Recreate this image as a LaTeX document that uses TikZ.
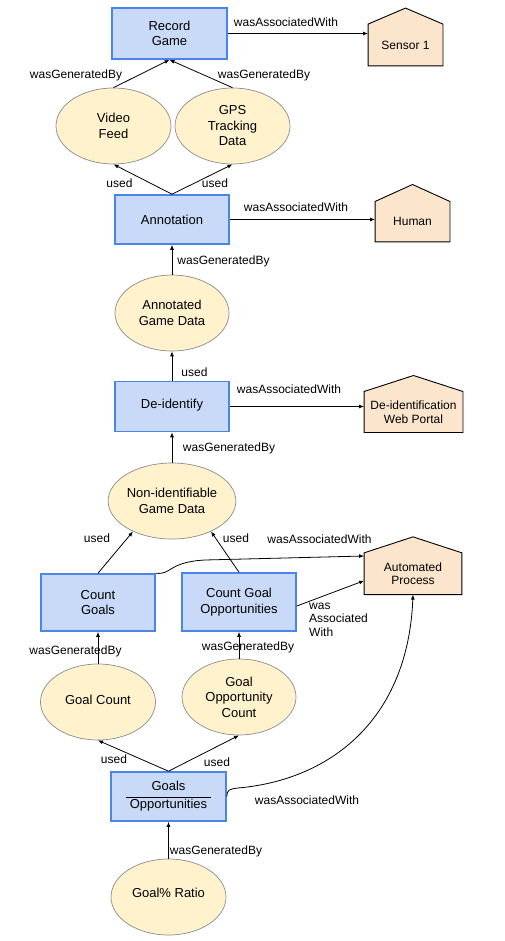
\documentclass[tikz,border=0pt]{standalone}
\usepackage{fontspec}
\setmainfont{Liberation Sans}
\usetikzlibrary{arrows.meta,shapes.geometric,backgrounds}
\definecolor{actfill}{HTML}{C9DAF8}
\definecolor{actdraw}{HTML}{4A86E8}
\definecolor{entfill}{HTML}{FFF2CC}
\definecolor{entdraw}{HTML}{8C8C8C}
\definecolor{agfill}{HTML}{FCE5CD}
\newcommand{\nodefnt}{\fontsize{13}{15.5}\selectfont}
\newcommand{\lblfnt}{\fontsize{12}{13.5}\selectfont}
\newcommand{\agfnt}{\fontsize{12}{13.5}\selectfont}
\newcommand{\drawhouse}[2]{%
  \begin{scope}[on background layer]
    \filldraw[fill=agfill, draw=black, line width=0.9pt]
      (#1.south west) -- (#1.north west) -- ([yshift=#2]#1.north) -- (#1.north east) -- (#1.south east) -- cycle;
  \end{scope}}
\begin{document}
\begin{tikzpicture}[x=1pt,y=-1pt,
  act/.style={rectangle, draw=actdraw, fill=actfill, line width=1.6pt, align=center, font=\nodefnt, inner sep=0pt},
  ent/.style={ellipse, draw=entdraw, fill=entfill, line width=0.7pt, minimum width=114pt, minimum height=76pt, inner sep=0pt, align=center, font=\nodefnt},
  agent/.style={rectangle, inner sep=0pt, align=center, font=\agfnt},
  lbl/.style={inner sep=0pt, font=\lblfnt},
  arr/.style={-{Latex[length=5pt,width=4pt]}, line width=0.8pt},
]
\useasboundingbox (0,0) rectangle (504,941);
\begin{scope}[on background layer]
  \fill[white] (0,0) rectangle (504,941);
\end{scope}

% nodes
\node[act, minimum width=115pt, minimum height=51pt] (rg) at (169.5,33.5) {Record\\Game};
\node[agent, minimum width=74.5pt, minimum height=41.4pt] (s1) at (405.5,45) {Sensor 1};
\node[ent, minimum width=115pt] (vf) at (113.5,126) {Video\\Feed};
\node[ent, minimum width=115pt] (gps) at (232.5,126) {GPS\\Tracking\\Data};
\node[act, minimum width=114pt, minimum height=49pt] (an) at (172,219.5) {Annotation};
\node[agent, minimum width=74.5pt, minimum height=40pt] (hu) at (412.5,221.7) {Human};
\node[ent] (agd) at (172,313) {Annotated\\Game Data};
\node[act, minimum width=114pt, minimum height=50pt] (di) at (172,406.5) {\raisebox{5pt}{De-identify}};
\node[agent, minimum width=98.5pt, minimum height=40.6pt] (wp) at (413.5,412) {De-identification\\Web Portal};
\node[ent] (ni) at (172,501) {Non-identifiable\\Game Data};
\node[act, minimum width=114pt, minimum height=57pt] (cg) at (98,602.5) {Count\\Goals};
\node[act, minimum width=114pt, minimum height=58pt] (cgo) at (239,602) {Count Goal\\Opportunities};
\node[agent, minimum width=97.4pt, minimum height=41.3pt] (ap) at (413,573.7) {Automated\\Process};
\node[ent, minimum width=115pt] (gc) at (98,702) {\raisebox{5pt}{Goal Count}};
\node[ent] (goc) at (239,697) {Goal\\Opportunity\\Count};
\node[act, minimum width=115pt, minimum height=49pt] (go) at (168.5,796.5)
  {\setlength{\tabcolsep}{3.5pt}\setlength{\arrayrulewidth}{0.8pt}\begin{tabular}{c}Goals\\[1.5pt]\hline Opportunities\end{tabular}};
\node[ent, minimum width=115pt] (gr) at (168.5,897) {\raisebox{8pt}{Goal\% Ratio}};

\drawhouse{s1}{16pt}
\drawhouse{hu}{17pt}
\drawhouse{wp}{16pt}
\drawhouse{ap}{16pt}

\coordinate (cgv) at (205,560);
\coordinate (gov) at (238,788);

% connectors
\draw[arr] (rg.east) -- (rg.east -| s1.west);
\draw[arr] (vf.north) -- (rg.south);
\draw[arr] (gps.north) -- (rg.south);
\draw[arr] (an.north) -- (vf.south);
\draw[arr] (an.north) -- (gps.south);
\draw[arr] (an.east) -- (an.east -| hu.west);
\draw[arr] (agd.north) -- (an.south);
\draw[arr] (di.north) -- (agd.south);
\draw[arr] (di.east) -- (di.east -| wp.west);
\draw[arr] (ni.north) -- (di.south);
\draw[arr] (cg.north) -- (ni.218);
\draw[arr] (cgo.north) -- (ni.322);
\draw[arr] (cg.north east) .. controls (172,575) and (168,562) .. (cgv) -- ([yshift=17.7pt]ap.west);
\draw[arr] ([yshift=-4pt]cgo.east) -- ([yshift=-7pt]ap.west);
\draw[arr] (gc.north) -- (cg.south);
\draw[arr] (goc.north) -- (cgo.south);
\draw[arr] (go.north) -- (gc.south);
\draw[arr] (go.north) -- (goc.south);
\draw[arr] (go.east) .. controls (227,790) and (229,789) .. (gov) .. controls (330,780) and (408,720) .. (ap.south);
\draw[arr] (gr.north) -- (go.south);

% labels
\node[lbl] (l1) at (286,22) {wasAssociatedWith};
\node[lbl] (l2) at (76,75) {wasGeneratedBy};
\node[lbl] (l3) at (264,75) {wasGeneratedBy};
\node[lbl] (l4) at (119.5,183) {used};
\node[lbl] (l5) at (215,183) {used};
\node[lbl] (l6) at (296,207) {wasAssociatedWith};
\node[lbl] (l7) at (223.5,261) {wasGeneratedBy};
\node[lbl] (l8) at (194.5,372) {used};
\node[lbl] (l9) at (289,389) {wasAssociatedWith};
\node[lbl] (l10) at (229,448) {wasGeneratedBy};
\node[lbl] (l11) at (97,538) {used};
\node[lbl] (l12) at (236,538) {used};
\node[lbl] (l13) at (319.5,539) {wasAssociatedWith};
\node[lbl, align=left, anchor=west] (l14) at (309,619.5) {was\\Associated\\With};
\node[lbl] (l15) at (75.5,651) {wasGeneratedBy};
\node[lbl] (l16) at (248,647) {wasGeneratedBy};
\node[lbl] (l17) at (114,759) {used};
\node[lbl] (l18) at (217,762) {used};
\node[lbl] (l19) at (307,800) {wasAssociatedWith};
\node[lbl] (l20) at (216,851) {wasGeneratedBy};
\end{tikzpicture}
\end{document}
